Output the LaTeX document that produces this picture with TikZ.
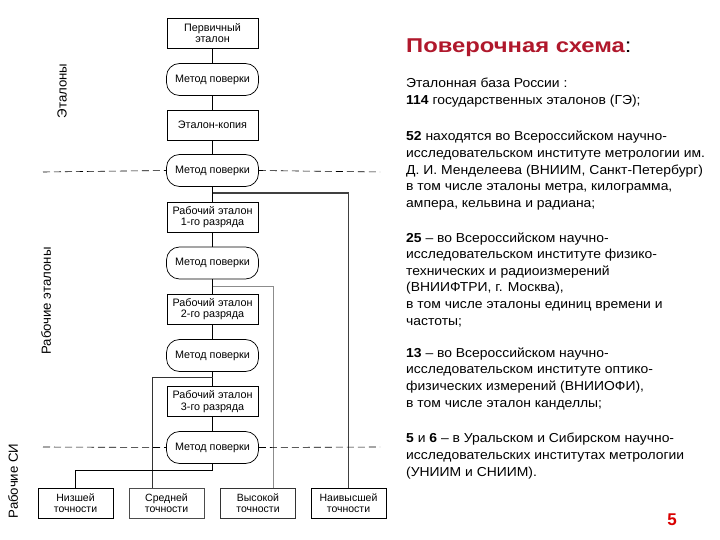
\documentclass[tikz,border=0pt]{standalone}
\usepackage{fontspec}
\setmainfont{Liberation Sans}
\newfontfamily\bodyfont[FakeStretch=1.07,Ligatures=TeX]{Liberation Sans}
\newfontfamily\titlefont[FakeStretch=1.19]{Liberation Sans}
\definecolor{titlered}{HTML}{B0182C}
\begin{document}
\begin{tikzpicture}[x=1pt,y=-1pt,
  box/.style={draw, line width=0.7pt, minimum width=91pt, minimum height=30pt, inner sep=1pt, align=center, font=\fontsize{10.8}{11.5}\selectfont},
  meth/.style={draw, line width=0.7pt, rounded corners=13pt, minimum width=92pt, minimum height=32pt, inner sep=1pt, font=\fontsize{10.8}{11.5}\selectfont},
  bbox/.style={draw, line width=0.7pt, minimum width=75pt, minimum height=30pt, inner sep=1pt, align=center, font=\fontsize{10.5}{11.5}\selectfont},
  conn/.style={line width=0.7pt},
  dsh/.style={dashed, dash pattern=on 7pt off 4pt, line width=0.6pt},
  side/.style={rotate=90, font=\fontsize{13.2}{14}\selectfont},
  para/.style={anchor=base west, align=left, inner sep=0pt, font=\bodyfont\fontsize{13}{16.6}\selectfont}
]
\useasboundingbox (0,0) rectangle (720,540);
\fill[white] (0,0) rectangle (720,540);
% central column
\node[box]  (p)  at (212.5,33)  {Первичный\\эталон};
\node[meth] (m1) at (212.5,79.5) {Метод поверки};
\node[box]  (k)  at (212.5,125) {Эталон-копия};
\node[meth] (m2) at (212.5,170.5) {Метод поверки};
\node[box]  (r1) at (212.5,217) {Рабочий эталон\\1-го разряда};
\node[meth] (m3) at (212.5,263) {Метод поверки};
\node[box]  (r2) at (212.5,309) {Рабочий эталон\\2-го разряда};
\node[meth] (m4) at (212.5,355.5) {Метод поверки};
\node[box]  (r3) at (212.5,401.5) {Рабочий эталон\\3-го разряда};
\node[meth] (m5) at (212.5,447.5) {Метод поверки};
% bottom boxes
\node[bbox] (b1) at (75.5,503)  {Низшей\\точности};
\node[bbox, draw=black!70] (b2) at (166.5,503) {Средней\\точности};
\node[bbox, draw=black!80] (b3) at (258,503)   {Высокой\\точности};
\node[bbox] (b4) at (348.5,503) {Наивысшей\\точности};
% chain
\draw[conn] (p) -- (m1);
\draw[conn] (m1) -- (k);
\draw[conn] (k) -- (m2);
\draw[conn] (m2) -- (r1);
\draw[conn] (r1) -- (m3);
\draw[conn] (m3) -- (r2);
\draw[conn] (r2) -- (m4);
\draw[conn] (m4) -- (r3);
\draw[conn] (r3) -- (m5);
% branches
\coordinate (j2) at (212.5,193);
\coordinate (j3) at (212.5,286);
\coordinate (j4) at (212.5,377);
\draw[conn, black!75, line width=1.1pt] (j2) -| (b4.north);
\draw[conn, black!45] (j3) -| (b3.north -| 273,0);
\draw[conn, black!80] (j4) -| (b2.north -| 152,0);
\draw[conn] (m5.south) |- (75.5,470) -- (b1.north);
% dashed separators
\coordinate (d1l) at (43,172);
\coordinate (d1r) at (380,172);
\coordinate (d2l) at (43,447);
\coordinate (d2r) at (380,447);
\draw[dsh] (d1l) -- (m2.west);
\draw[dsh] (m2.east) -- (d1r);
\draw[dsh] (d2l) -- (m5.west);
\draw[dsh] (m5.east) -- (d2r);
% side labels
\node[side] (s1) at (62,91)  {Эталоны};
\node[side] (s2) at (46,301) {Рабочие эталоны};
\node[side] (s3) at (13,481) {Рабочие СИ};
% right text
\node[anchor=base west, inner sep=0pt, font=\titlefont\fontsize{20}{22}\selectfont] (t) at (406,53) {\textcolor{titlered}{\bfseries Поверочная схема}:};
\node[para] (q1) at (406,104.6) {Эталонная база России :\\\textbf{114} государственных эталонов (ГЭ);};
\node[para] (q2) at (406,207.4) {\textbf{52} находятся во Всероссийском научно-\\исследовательском институте метрологии им.\\Д. И. Менделеева (ВНИИМ, Санкт-Петербург)\\в том числе эталоны метра, килограмма,\\ампера, кельвина и радиана;};
\node[para] (q3) at (406,325) {\textbf{25} – во Всероссийском научно-\\исследовательском институте физико-\\технических и радиоизмерений\\(ВНИИФТРИ, г. Москва),\\в том числе эталоны единиц времени и\\частоты;};
\node[para] (q4) at (406,407) {\textbf{13} – во Всероссийском научно-\\исследовательском институте оптико-\\физических измерений (ВНИИОФИ),\\в том числе эталон канделлы;};
\node[para] (q5) at (406,476) {\textbf{5} и \textbf{6} – в Уральском и Сибирском научно-\\исследовательских институтах метрологии\\(УНИИМ и СНИИМ).};
\node[anchor=base, inner sep=0pt, font=\fontsize{17}{18}\selectfont\bfseries, text=red!85!black] (pg) at (672,525) {5};
\end{tikzpicture}
\end{document}
